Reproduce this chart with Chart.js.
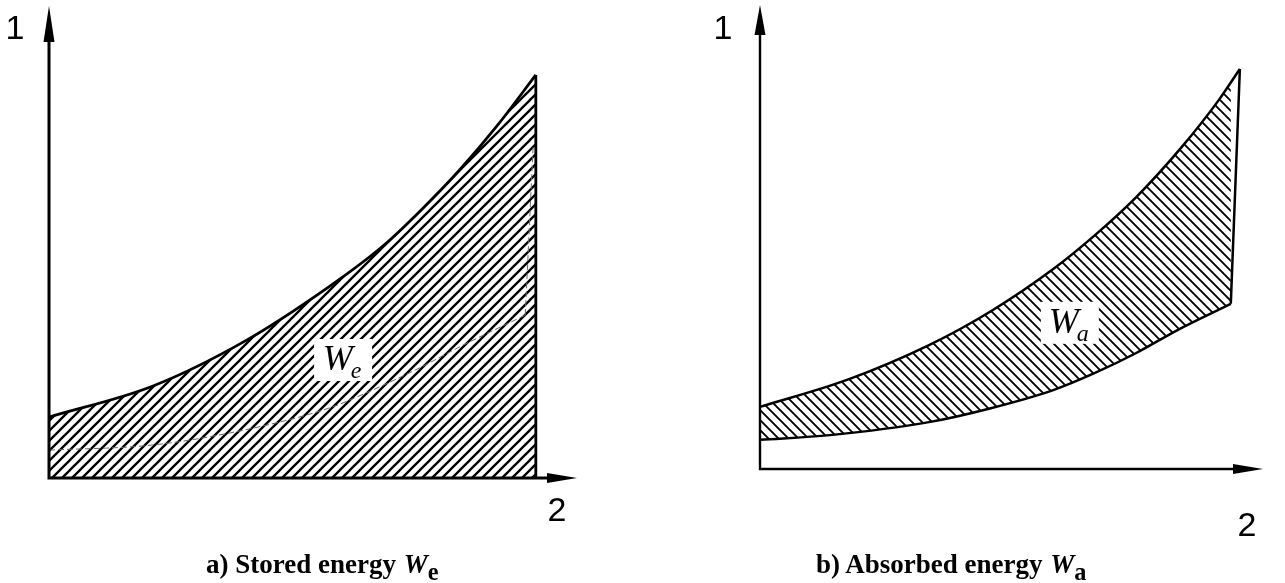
<!DOCTYPE html>
<html>
<head>
<meta charset="utf-8">
<script src="https://cdn.jsdelivr.net/npm/chart.js@4.4.1/dist/chart.umd.min.js"></script>
<style>
  html, body { margin: 0; padding: 0; background: #fff; }
  #wrap { position: relative; width: 1285px; height: 583px; overflow: hidden; }
  canvas { position: absolute; top: 0; }
  #chartA { left: 0; }
  #chartB { left: 640px; }
  .cap { position: absolute; top: 549px; line-height: 27px; white-space: nowrap;
         font: bold 27px "Liberation Serif", "Times New Roman", serif; color: #000; }
  .cap i { font-style: italic; margin-left: 1px; }
  .cap sub { font-size: 0.9em; vertical-align: -0.3em; line-height: 0; }
  #capA { left: 206px; }
  #capB { left: 816px; }
</style>
</head>
<body>
<div id="wrap">
  <canvas id="chartA" width="640" height="583"></canvas>
  <canvas id="chartB" width="645" height="583"></canvas>
  <div class="cap" id="capA">a) Stored energy <i>W</i><sub>e</sub></div>
  <div class="cap" id="capB">b) Absorbed energy <i>W</i><sub>a</sub></div>
</div>
<script>
// ── 資料 (axes run 0..10 in both panels) ─────────────────
// a) stored energy: upper boundary curve
const aTopX  = [0, 1.97, 3.71, 5.30, 6.33, 7.05, 7.78, 8.50, 9.22];
const aTopY  = [1.29, 1.95, 2.90, 4.05, 4.92, 5.68, 6.53, 7.48, 8.54];
// a) thin dashed curve inside the hatched area
const aDashX = [0, 1.97, 3.71, 5.30, 6.04, 7.05, 7.78, 9.02];
const aDashY = [0.59, 0.70, 1.02, 1.48, 1.82, 2.35, 2.78, 3.45];
const aDashEnd = { x: 9.17, y: 7.06 };
// b) absorbed energy: upper and lower boundary of the band
const bTopX  = [0, 1.73, 3.36, 4.59, 5.83, 6.66, 7.48, 8.37, 9.12, 9.54];
const bTopY  = [1.34, 1.92, 2.67, 3.40, 4.31, 5.04, 5.86, 6.92, 7.95, 8.62];
const bLowX  = [0, 1.39, 3.36, 4.59, 5.83, 6.66, 7.48, 8.31, 9.36];
const bLowY  = [0.63, 0.73, 1.01, 1.31, 1.70, 2.07, 2.50, 3.00, 3.56];
// axis labels / area tags
const axisLabels = { y: '1', x: '2' };
const tagA = { text: 'W', sub: 'e', x: 5.57, y: 2.50 };
const tagB = { text: 'W', sub: 'a', x: 6.16, y: 3.15 };

// ── 工具函式 ──────────────────────────────────────────────
const pts = (xs, ys) => xs.map((x, i) => ({ x, y: ys[i] }));
const last = arr => arr[arr.length - 1];

// diagonal hatch pattern: dir 1 = "/", dir -1 = "\"
function hatch(size, width, dir) {
  const c = document.createElement('canvas');
  c.width = c.height = size;
  const g = c.getContext('2d');
  g.strokeStyle = '#000';
  g.lineWidth = width;
  g.beginPath();
  if (dir > 0) {
    g.moveTo(0, size); g.lineTo(size, 0);
    g.moveTo(-size / 2, size / 2); g.lineTo(size / 2, -size / 2);
    g.moveTo(size / 2, size * 1.5); g.lineTo(size * 1.5, size / 2);
  } else {
    g.moveTo(0, 0); g.lineTo(size, size);
    g.moveTo(-size / 2, size / 2); g.lineTo(size / 2, size * 1.5);
    g.moveTo(size / 2, -size / 2); g.lineTo(size * 1.5, size / 2);
  }
  g.stroke();
  return g.createPattern(c, 'repeat');
}

// axes with arrow heads, "1"/"2" labels and the W tag box
function figurePlugin(cfg) {
  return {
    id: 'figure',
    afterDatasetsDraw(chart) {
      const { ctx, scales: { x, y } } = chart;
      const x0 = x.getPixelForValue(0), y0 = y.getPixelForValue(0);
      const xe = x.right, ye = y.top;
      ctx.save();
      ctx.strokeStyle = '#000';
      ctx.fillStyle = '#000';
      ctx.lineWidth = cfg.axisWidth;
      ctx.beginPath();
      ctx.moveTo(x0 - cfg.axisWidth / 2, y0); ctx.lineTo(xe - cfg.arrowX[0] + 1, y0);
      ctx.moveTo(x0, y0 + cfg.axisWidth / 2); ctx.lineTo(x0, ye + cfg.arrowY[0] - 1);
      ctx.stroke();
      ctx.beginPath();
      ctx.moveTo(xe, y0);
      ctx.lineTo(xe - cfg.arrowX[0], y0 - cfg.arrowX[1]);
      ctx.lineTo(xe - cfg.arrowX[0], y0 + cfg.arrowX[1]);
      ctx.closePath();
      ctx.moveTo(x0, ye);
      ctx.lineTo(x0 - cfg.arrowY[1], ye + cfg.arrowY[0]);
      ctx.lineTo(x0 + cfg.arrowY[1], ye + cfg.arrowY[0]);
      ctx.closePath();
      ctx.fill();

      ctx.font = '34px "Liberation Sans", Arial, sans-serif';
      ctx.textAlign = 'center';
      ctx.textBaseline = 'middle';
      ctx.fillText(axisLabels.y, x0 + cfg.yLabel[0], ye + cfg.yLabel[1]);
      ctx.fillText(axisLabels.x, xe + cfg.xLabel[0], y0 + cfg.xLabel[1]);

      // W tag on white box
      const t = cfg.tag;
      const px = x.getPixelForValue(t.x), py = y.getPixelForValue(t.y);
      ctx.fillStyle = '#fff';
      ctx.fillRect(px - 29, py - 21, 58, 42);
      ctx.fillStyle = '#000';
      ctx.textAlign = 'left';
      ctx.textBaseline = 'alphabetic';
      const big = 'italic 36px "Liberation Serif", serif';
      const small = 'italic 24px "Liberation Serif", serif';
      ctx.font = big;
      const wW = ctx.measureText(t.text).width;
      ctx.font = small;
      const wS = ctx.measureText(t.sub).width;
      const sx = px - (wW + wS) / 2;
      ctx.font = big;
      ctx.fillText(t.text, sx, py + 10);
      ctx.font = small;
      ctx.fillText(t.sub, sx + wW - 2, py + 18);
      ctx.restore();
    }
  };
}

const hiddenScales = {
  x: { type: 'linear', min: 0, max: 10, display: false },
  y: { type: 'linear', min: 0, max: 10, display: false }
};
const baseOpts = {
  responsive: false,
  animation: false,
  events: [],
  plugins: { legend: { display: false }, tooltip: { enabled: false } },
  elements: { point: { radius: 0 } },
  scales: hiddenScales
};

// ── a) Stored energy ─────────────────────────────────────
new Chart(document.getElementById('chartA'), {
  type: 'line',
  data: {
    datasets: [
      {
        data: pts(aTopX, aTopY),
        borderColor: '#000', borderWidth: 2.8,
        backgroundColor: hatch(10, 2.3, 1),
        fill: 'origin', cubicInterpolationMode: 'monotone', clip: false, order: 1
      },
      {
        data: [{ x: last(aTopX), y: 0 }, { x: last(aTopX), y: last(aTopY) }],
        borderColor: '#000', borderWidth: 2.8, fill: false, clip: false, order: 1
      },
      {
        data: pts(aDashX, aDashY),
        borderColor: '#6a6a6a', borderWidth: 1, borderDash: [6, 3],
        fill: false, cubicInterpolationMode: 'monotone', clip: false, order: 0
      },
      {
        data: [{ x: last(aDashX), y: last(aDashY) }, aDashEnd],
        borderColor: '#6a6a6a', borderWidth: 1, borderDash: [6, 3],
        fill: false, clip: false, order: 0
      }
    ]
  },
  options: Object.assign({}, baseOpts, {
    layout: { padding: { left: 49, right: 63, top: 6, bottom: 105 } }
  }),
  plugins: [figurePlugin({
    axisWidth: 3, arrowX: [30, 5], arrowY: [36, 5.5],
    yLabel: [-34, 24], xLabel: [-20, 34], tag: tagA
  })]
});

// ── b) Absorbed energy ───────────────────────────────────
new Chart(document.getElementById('chartB'), {
  type: 'line',
  data: {
    datasets: [
      {
        data: pts(bTopX, bTopY),
        borderColor: '#000', borderWidth: 2.5,
        backgroundColor: hatch(10, 1.9, -1),
        fill: '+1', cubicInterpolationMode: 'monotone', clip: false
      },
      {
        data: pts(bLowX, bLowY),
        borderColor: '#000', borderWidth: 2.5,
        fill: false, cubicInterpolationMode: 'monotone', clip: false
      },
      {
        data: [{ x: last(bLowX), y: last(bLowY) }, { x: last(bTopX), y: last(bTopY) }],
        borderColor: '#000', borderWidth: 2.5, fill: false, clip: false
      }
    ]
  },
  options: Object.assign({}, baseOpts, {
    layout: { padding: { left: 120, right: 22, top: 5, bottom: 114 } }
  }),
  plugins: [figurePlugin({
    axisWidth: 2.4, arrowX: [30, 5], arrowY: [30, 5.5],
    yLabel: [-37, 25], xLabel: [-16, 58], tag: tagB
  })]
});
</script>
</body>
</html>
